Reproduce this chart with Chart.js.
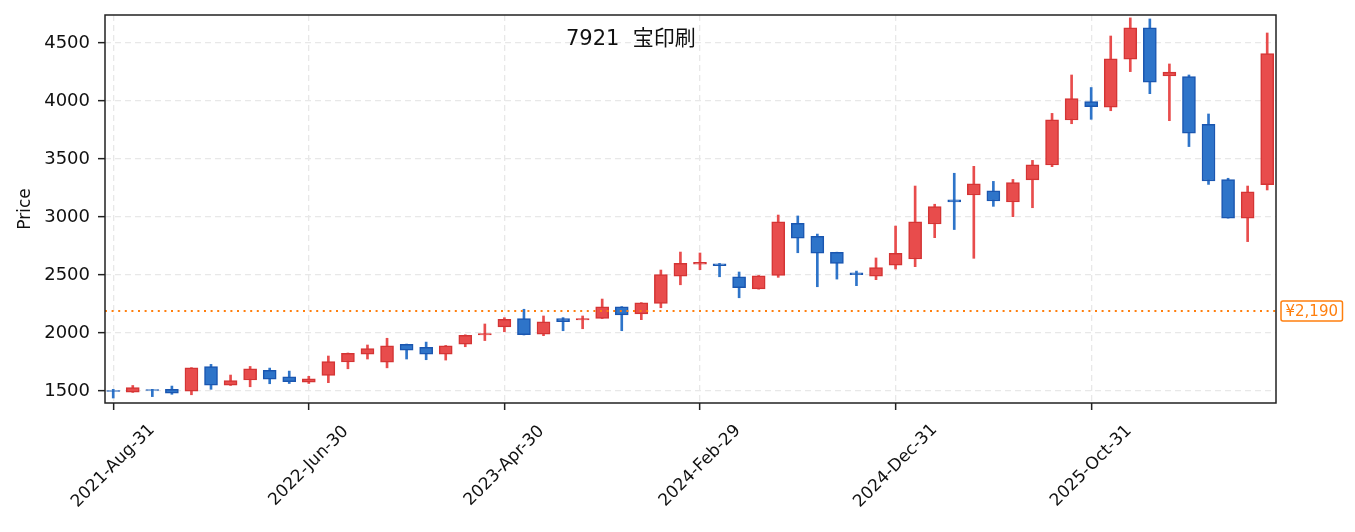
<!DOCTYPE html>
<html>
<head>
<meta charset="utf-8">
<title>7921 宝印刷</title>
<script src="https://cdn.jsdelivr.net/npm/chart.js@4.4.1/dist/chart.umd.min.js"></script>
<style>
  html, body { margin: 0; padding: 0; background: #fff; }
  #wrap { width: 1355px; height: 532px; }
</style>
</head>
<body>
<div id="wrap"><canvas id="myChart"></canvas></div>
<script>
//Monthly candles, one per month end
const dates = [
  "2021-Aug-31", "2021-Sep-30", "2021-Oct-31", "2021-Nov-30", "2021-Dec-31",
  "2022-Jan-31", "2022-Feb-28", "2022-Mar-31", "2022-Apr-30", "2022-May-31", "2022-Jun-30",
  "2022-Jul-31", "2022-Aug-31", "2022-Sep-30", "2022-Oct-31", "2022-Nov-30", "2022-Dec-31",
  "2023-Jan-31", "2023-Feb-28", "2023-Mar-31", "2023-Apr-30", "2023-May-31", "2023-Jun-30",
  "2023-Jul-31", "2023-Aug-31", "2023-Sep-30", "2023-Oct-31", "2023-Nov-30", "2023-Dec-31",
  "2024-Jan-31", "2024-Feb-29", "2024-Mar-31", "2024-Apr-30", "2024-May-31", "2024-Jun-30",
  "2024-Jul-31", "2024-Aug-31", "2024-Sep-30", "2024-Oct-31", "2024-Nov-30", "2024-Dec-31",
  "2025-Jan-31", "2025-Feb-28", "2025-Mar-31", "2025-Apr-30", "2025-May-31", "2025-Jun-30",
  "2025-Jul-31", "2025-Aug-31", "2025-Sep-30", "2025-Oct-31", "2025-Nov-30", "2025-Dec-31",
  "2026-Jan-31", "2026-Feb-28", "2026-Mar-31", "2026-Apr-30", "2026-May-31", "2026-Jun-30",
  "2026-Jul-31"
];

const opens = [
  1505, 1490, 1512, 1515, 1500, 1710, 1550, 1595, 1678, 1623,
  1577, 1635, 1750, 1818, 1748, 1902, 1876, 1818, 1903, 1983,
  2053, 2125, 1990, 2125, 2113, 2127, 2226, 2165, 2255, 2490,
  2593, 2597, 2485, 2380, 2497, 2945, 2833, 2695, 2518, 2490,
  2585, 2638, 2940, 3148, 3190, 3226, 3129, 3320, 3448, 3836,
  3995, 3946, 4360, 4630, 4215, 4210, 3798, 3322, 2991, 3278
];
const highs = [
  1515, 1548, 1515, 1543, 1702, 1730, 1638, 1712, 1698, 1672,
  1627, 1802, 1828, 1897, 1955, 1905, 1922, 1893, 1985, 2078,
  2132, 2205, 2147, 2133, 2147, 2293, 2228, 2262, 2543, 2698,
  2690, 2600, 2526, 2496, 3017, 3009, 2853, 2697, 2534, 2647,
  2922, 3267, 3110, 3377, 3437, 3307, 3324, 3488, 3893, 4224,
  4116, 4560, 4716, 4707, 4319, 4224, 3888, 3334, 3267, 4586
];
const lows = [
  1440, 1488, 1452, 1472, 1468, 1515, 1548, 1537, 1563, 1565,
  1565, 1572, 1692, 1776, 1700, 1776, 1770, 1767, 1882, 1935,
  2011, 1983, 1977, 2020, 2037, 2125, 2020, 2115, 2218, 2416,
  2546, 2485, 2304, 2378, 2480, 2692, 2399, 2465, 2408, 2460,
  2552, 2572, 2822, 2892, 2644, 3092, 3003, 3080, 3434, 3804,
  3842, 3916, 4253, 4063, 3830, 3607, 3281, 2990, 2788, 3233
];
const closes = [
  1497, 1530, 1505, 1482, 1700, 1550, 1590, 1692, 1603, 1580,
  1605, 1755, 1825, 1866, 1890, 1852, 1818, 1890, 1980, 1995,
  2118, 1985, 2097, 2098, 2125, 2226, 2157, 2260, 2503, 2600,
  2610, 2580, 2390, 2493, 2958, 2818, 2688, 2600, 2503, 2565,
  2687, 2958, 3089, 3130, 3287, 3138, 3296, 3450, 3838, 4020,
  3950, 4364, 4630, 4163, 4248, 3722, 3310, 2991, 3218, 4409
];

const yTicks = [1500, 2000, 2500, 3000, 3500, 4000, 4500];
const xTickIdx = [0, 10, 20, 30, 40, 50];
const refPrice = 2190;
const chartTitle = "7921  宝印刷";

const FONT = '"DejaVu Sans", "Noto Sans CJK JP", sans-serif';
const RED = "#e84c4c", RED_EDGE = "#d43434";
const BLUE = "#2e74c9", BLUE_EDGE = "#1a56b0";
const ORANGE = "#ff7f0e";
const GRID = "#e8e8e8";

let isUp = opens.map((o, i) => closes[i] >= o);
let bodies = opens.map((o, i) => ({ x: i, y: [o, closes[i]] }));
let wicks = lows.map((l, i) => ({ x: i, y: [l, highs[i]] }));

//frame, reference line, titles and the rotated date labels
const overlay = {
  id: "overlay",
  afterDatasetsDraw(chart) {
    const ctx = chart.ctx;
    const a = chart.chartArea;
    const y = chart.scales.y.getPixelForValue(refPrice);

    ctx.save();
    ctx.strokeStyle = ORANGE;
    ctx.lineWidth = 2;
    ctx.setLineDash([2, 4.6]);
    ctx.beginPath();
    ctx.moveTo(a.left, y);
    ctx.lineTo(a.right, y);
    ctx.stroke();
    ctx.setLineDash([]);

    ctx.strokeStyle = "#222";
    ctx.lineWidth = 1.5;
    ctx.strokeRect(a.left, a.top, a.right - a.left, a.bottom - a.top);
    ctx.restore();
  },
  afterDraw(chart) {
    const ctx = chart.ctx;
    const a = chart.chartArea;
    const y = chart.scales.y.getPixelForValue(refPrice);
    ctx.save();

    //price tag on the right
    ctx.font = "15px " + FONT;
    let txt = "¥" + refPrice.toLocaleString("en-US");
    let w = ctx.measureText(txt).width + 9;
    ctx.fillStyle = "#fff";
    ctx.strokeStyle = ORANGE;
    ctx.lineWidth = 1.5;
    ctx.beginPath();
    ctx.roundRect(a.right + 5, y - 10, w, 20, 2);
    ctx.fill();
    ctx.stroke();
    ctx.fillStyle = ORANGE;
    ctx.textAlign = "left";
    ctx.textBaseline = "middle";
    ctx.fillText(txt, a.right + 9.5, y + 1);

    //title inside plot
    ctx.fillStyle = "#111";
    ctx.font = "21px " + FONT;
    ctx.textAlign = "left";
    ctx.fillText(chartTitle, 566, 40);

    //y axis title
    ctx.font = "17px " + FONT;
    ctx.translate(26, (a.top + a.bottom) / 2);
    ctx.rotate(-Math.PI / 2);
    ctx.textAlign = "center";
    ctx.fillText("Price", 0, 0);
    ctx.restore();

    //x labels rotated 45 degrees, centred under each tick
    const xs = chart.scales.x;
    ctx.save();
    ctx.fillStyle = "#111";
    ctx.font = "17px " + FONT;
    ctx.textAlign = "center";
    ctx.textBaseline = "middle";
    xTickIdx.forEach(function (i) {
      ctx.save();
      ctx.translate(xs.getPixelForValue(i), 466);
      ctx.rotate(-Math.PI / 4);
      ctx.fillText(dates[i], 0, 0);
      ctx.restore();
    });
    ctx.restore();
  },
};

const config = {
  type: "bar",
  data: {
    datasets: [
      {
        label: "body",
        data: bodies,
        backgroundColor: isUp.map((u) => (u ? RED : BLUE)),
        borderColor: isUp.map((u) => (u ? RED_EDGE : BLUE_EDGE)),
        borderWidth: 1.5,
        borderSkipped: false,
        barThickness: 13,
        grouped: false,
        order: 0,
      },
      {
        label: "wick",
        data: wicks,
        backgroundColor: isUp.map((u) => (u ? RED : BLUE)),
        borderWidth: 0,
        barThickness: 2,
        grouped: false,
        order: 1,
      },
    ],
  },
  options: {
    responsive: true,
    maintainAspectRatio: false,
    animation: false,
    layout: { padding: { top: 15, right: 79, left: 0, bottom: 0 } },
    plugins: { legend: { display: false }, tooltip: { enabled: false } },
    scales: {
      x: {
        type: "linear",
        offset: false,
        min: -0.42,
        max: 59.45,
        afterBuildTicks: (s) => {
          s.ticks = xTickIdx.map((v) => ({ value: v }));
        },
        afterFit: (s) => {
          s.height = 129;
          s.paddingLeft = 0;
          s.paddingRight = 0;
        },
        ticks: { display: false },
        grid: { offset: false, color: GRID, lineWidth: 1.3, tickLength: 7, tickColor: "#222", tickWidth: 1.5 },
        border: { display: false, dash: [6, 4] },
      },
      y: {
        min: 1397,
        max: 4741,
        afterBuildTicks: (s) => {
          s.ticks = yTicks.map((v) => ({ value: v }));
        },
        afterFit: (s) => {
          s.width = 105;
          s.paddingTop = 0;
          s.paddingBottom = 0;
        },
        ticks: {
          color: "#111",
          padding: 8,
          font: { family: FONT, size: 18 },
          callback: (v) => String(v),
        },
        grid: { color: GRID, lineWidth: 1.3, tickLength: 7, tickColor: "#222", tickWidth: 1.5 },
        border: { display: false, dash: [6, 4] },
      },
    },
  },
  plugins: [overlay],
};

var Price_Chart = new Chart(document.getElementById("myChart"), config);
</script>
</body>
</html>
